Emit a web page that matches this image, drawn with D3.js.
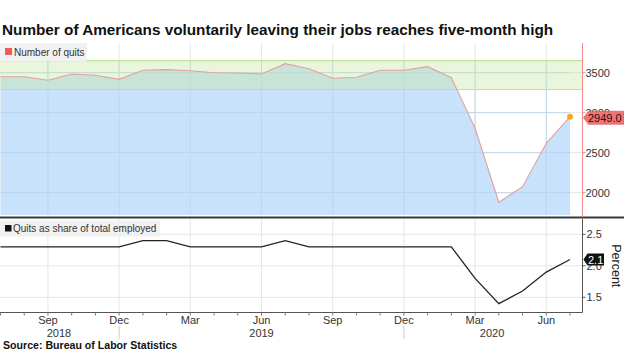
<!DOCTYPE html>
<html lang="en">
<head>
  <meta charset="UTF-8" />
  <title>Quits</title>
  <script src="https://d3js.org/d3.v7.min.js"></script>
  <style>
    body { margin: 0; background: white; }
    svg { display: block; font-family: "Liberation Sans", Arial, sans-serif; }
    .tick-label { font-size: 11px; fill: #333; }
  </style>
</head>
<body>
  <svg id="chart" width="624" height="351"></svg>

  <script>
    // monthly points, Jul 2018 .. Jul 2020
    const months = ["2018-07","2018-08","2018-09","2018-10","2018-11","2018-12",
      "2019-01","2019-02","2019-03","2019-04","2019-05","2019-06","2019-07","2019-08",
      "2019-09","2019-10","2019-11","2019-12","2020-01","2020-02","2020-03","2020-04",
      "2020-05","2020-06","2020-07"];
    const quits = [3450, 3450, 3405, 3484, 3467, 3417, 3530, 3538, 3525, 3500, 3496, 3484,
      3613, 3550, 3430, 3442, 3530, 3530, 3575, 3438, 2805, 1880, 2075, 2617, 2949];
    const share = [2.3, 2.3, 2.3, 2.3, 2.3, 2.3, 2.4, 2.4, 2.3, 2.3, 2.3, 2.3,
      2.4, 2.3, 2.3, 2.3, 2.3, 2.3, 2.3, 2.3, 1.8, 1.4, 1.6, 1.9, 2.1];
    const band = [3290, 3650];
    const quitTicks = [2000, 2500, 3000, 3500];
    const shareTicks = [1.5, 2.0, 2.5];
    const monthLabels = { "2018-09": "Sep", "2018-12": "Dec", "2019-03": "Mar", "2019-06": "Jun",
      "2019-09": "Sep", "2019-12": "Dec", "2020-03": "Mar", "2020-06": "Jun" };
    const yearLabels = [["2018", "2018-09"], ["2019", "2019-06"], ["2020", "2020-03"]];
    const yearBreaks = ["2018-12", "2019-12"];

    const svg = d3.select("#chart");
    const plotRight = 582.5;

    const x = d3.scalePoint().domain(months).range([0.5, 570]);
    const yTop = d3.scaleLinear().domain([1721, 3871]).range([215, 43]);
    const yBot = d3.scaleLinear().domain([1.267, 2.727]).range([312, 220]);

    // title
    svg.append("text")
      .attr("x", 2).attr("y", 35)
      .attr("font-size", 15.3).attr("font-weight", "bold").attr("fill", "#111")
      .text("Number of Americans voluntarily leaving their jobs reaches five-month high");

    // ---- top panel ----
    const topG = svg.append("g");
    const gridMonths = Object.keys(monthLabels);

    topG.selectAll(".hg").data(quitTicks).join("line")
      .attr("x1", 0).attr("x2", plotRight)
      .attr("y1", d => yTop(d)).attr("y2", d => yTop(d))
      .attr("stroke", "#e6e6e6");
    topG.selectAll(".vg").data(gridMonths).join("line")
      .attr("x1", d => x(d)).attr("x2", d => x(d))
      .attr("y1", 43).attr("y2", 215)
      .attr("stroke", "#e6e6e6");

    const pts = months.map((m, i) => ({ m, v: quits[i] }));
    topG.append("path").datum(pts)
      .attr("fill", "#c9e2fb")
      .attr("d", d3.area().x(d => x(d.m)).y0(215).y1(d => yTop(d.v)));

    // grid shows through the area
    topG.selectAll(".hg2").data(quitTicks).join("line")
      .attr("x1", 0).attr("x2", x(months[months.length - 1]))
      .attr("y1", d => yTop(d)).attr("y2", d => yTop(d))
      .attr("stroke", "#b8d2ee").attr("stroke-width", 0.8);
    topG.selectAll(".vg2").data(gridMonths).join("line")
      .attr("x1", d => x(d)).attr("x2", d => x(d))
      .attr("y1", 60).attr("y2", 215)
      .attr("stroke", "#b8d2ee").attr("stroke-width", 0.8);

    // range band
    topG.append("rect")
      .attr("x", 0).attr("width", plotRight)
      .attr("y", yTop(band[1])).attr("height", yTop(band[0]) - yTop(band[1]))
      .attr("fill", "#c8e8a0").attr("opacity", 0.38);
    topG.selectAll(".bl").data(band).join("line")
      .attr("x1", 0).attr("x2", plotRight)
      .attr("y1", d => yTop(d)).attr("y2", d => yTop(d))
      .attr("stroke", "#bfe39a").attr("stroke-width", 1.2);

    topG.append("path").datum(pts)
      .attr("fill", "none").attr("stroke", "#e3a0a0").attr("stroke-width", 1.1)
      .attr("d", d3.line().x(d => x(d.m)).y(d => yTop(d.v)));

    const last = pts[pts.length - 1];
    topG.append("circle")
      .attr("cx", x(last.m)).attr("cy", yTop(last.v)).attr("r", 3)
      .attr("fill", "#f5a623");

    // right axis (red)
    topG.append("line")
      .attr("x1", plotRight).attr("x2", plotRight).attr("y1", 43).attr("y2", 216)
      .attr("stroke", "#f08a8a");
    topG.selectAll(".tk").data(quitTicks).join("line")
      .attr("x1", plotRight).attr("x2", plotRight + 3)
      .attr("y1", d => yTop(d)).attr("y2", d => yTop(d))
      .attr("stroke", "#f08a8a");
    topG.selectAll(".tl").data(quitTicks).join("text")
      .attr("class", "tick-label")
      .attr("x", plotRight + 3).attr("y", d => yTop(d) + 4)
      .text(d => d);

    // value tag
    const ty = yTop(last.v) + 1;
    topG.append("path")
      .attr("d", `M${plotRight + 1},${ty} L${plotRight + 6},${ty - 6.5} L624,${ty - 6.5} L624,${ty + 6.5} L${plotRight + 6},${ty + 6.5} Z`)
      .attr("fill", "#f07474").attr("stroke", "#d84c4c").attr("stroke-width", 0.6);
    topG.append("text")
      .attr("x", plotRight + 5.5).attr("y", ty + 4)
      .attr("font-size", 11).attr("fill", "#2a1010")
      .text(last.v.toFixed(1));

    // legend
    topG.append("rect").attr("x", 0).attr("y", 43).attr("width", 87).attr("height", 18)
      .attr("fill", "#f1f1f1");
    topG.append("rect").attr("x", 5).attr("y", 48).attr("width", 7).attr("height", 7)
      .attr("fill", "#ee5a5a");
    topG.append("text").attr("x", 14).attr("y", 56)
      .attr("font-size", 10).attr("fill", "#333").text("Number of quits");

    // separator
    svg.append("line")
      .attr("x1", 0).attr("x2", 624).attr("y1", 217.5).attr("y2", 217.5)
      .attr("stroke", "#3a3a3a").attr("stroke-width", 2.2);

    // ---- bottom panel ----
    const bot = svg.append("g");
    bot.selectAll(".hg").data(shareTicks).join("line")
      .attr("x1", 0).attr("x2", plotRight)
      .attr("y1", d => yBot(d)).attr("y2", d => yBot(d))
      .attr("stroke", "#e6e6e6");
    bot.selectAll(".vg").data(gridMonths).join("line")
      .attr("x1", d => x(d)).attr("x2", d => x(d))
      .attr("y1", 219).attr("y2", 312)
      .attr("stroke", "#e6e6e6");

    bot.append("path").datum(months.map((m, i) => ({ m, v: share[i] })))
      .attr("fill", "none").attr("stroke", "#222").attr("stroke-width", 1.3)
      .attr("d", d3.line().x(d => x(d.m)).y(d => yBot(d.v)));

    // axes
    bot.append("line")
      .attr("x1", plotRight).attr("x2", plotRight).attr("y1", 219).attr("y2", 312.5)
      .attr("stroke", "#555");
    bot.append("line")
      .attr("x1", 0).attr("x2", plotRight).attr("y1", 312.5).attr("y2", 312.5)
      .attr("stroke", "#555");
    bot.selectAll(".mt").data(months).join("line")
      .attr("x1", d => x(d)).attr("x2", d => x(d))
      .attr("y1", 312.5).attr("y2", 315.5)
      .attr("stroke", "#777");
    bot.selectAll(".tk").data(shareTicks).join("line")
      .attr("x1", plotRight).attr("x2", plotRight + 3)
      .attr("y1", d => yBot(d)).attr("y2", d => yBot(d))
      .attr("stroke", "#555");
    bot.selectAll(".tl").data(shareTicks).join("text")
      .attr("class", "tick-label")
      .attr("x", plotRight + 4).attr("y", d => yBot(d) + 4)
      .text(d => d.toFixed(1));

    const by = yBot(share[share.length - 1]);
    bot.append("path")
      .attr("d", `M${plotRight + 1},${by} L${plotRight + 5},${by - 6} L604,${by - 6} L604,${by + 6} L${plotRight + 5},${by + 6} Z`)
      .attr("fill", "#111");
    bot.append("text")
      .attr("x", plotRight + 5.5).attr("y", by + 4)
      .attr("font-size", 11).attr("fill", "#fff")
      .text(share[share.length - 1].toFixed(1));

    bot.append("text")
      .attr("transform", `translate(612,${yBot(2.0)}) rotate(90)`)
      .attr("text-anchor", "middle")
      .attr("font-size", 12.5).attr("fill", "#222")
      .text("Percent");

    // legend
    bot.append("rect").attr("x", 0).attr("y", 220.5).attr("width", 160).attr("height", 16)
      .attr("fill", "#f1f1f1");
    bot.append("rect").attr("x", 5).attr("y", 225).attr("width", 6.5).attr("height", 6.5)
      .attr("fill", "#111");
    bot.append("text").attr("x", 13).attr("y", 232)
      .attr("font-size", 10).attr("fill", "#333").text("Quits as share of total employed");

    // x labels
    bot.selectAll(".ml").data(gridMonths).join("text")
      .attr("class", "tick-label")
      .attr("text-anchor", "middle")
      .attr("x", d => x(d)).attr("y", 323.5)
      .text(d => monthLabels[d]);
    bot.selectAll(".yl").data(yearLabels).join("text")
      .attr("class", "tick-label")
      .attr("text-anchor", "middle")
      .attr("x", d => x(d[1]) + (d[0] === "2018" ? 11 : d[0] === "2020" ? 17 : 0)).attr("y", 336.5)
      .text(d => d[0]);
    bot.selectAll(".yb").data(yearBreaks).join("line")
      .attr("x1", d => x(d)).attr("x2", d => x(d))
      .attr("y1", 326).attr("y2", 339)
      .attr("stroke", "#ccc");

    svg.append("text")
      .attr("x", 3).attr("y", 348.5)
      .attr("font-size", 10.6).attr("font-weight", "bold").attr("fill", "#111")
      .text("Source: Bureau of Labor Statistics");
  </script>
</body>
</html>
